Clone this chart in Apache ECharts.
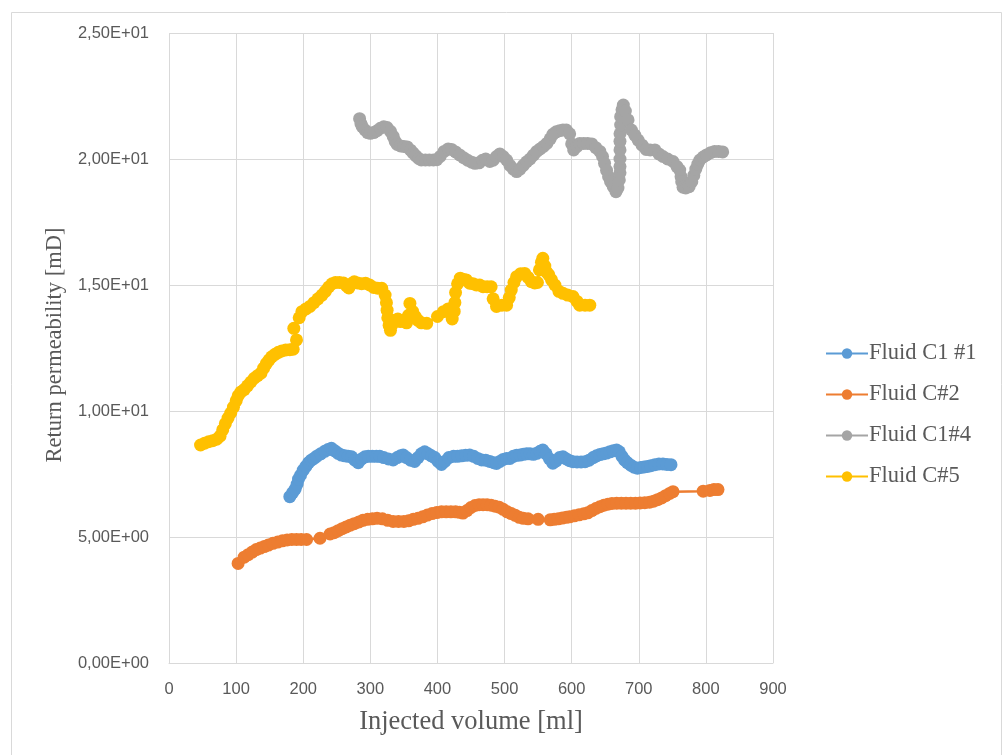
<!DOCTYPE html>
<html>
<head>
<meta charset="utf-8">
<script src="https://cdn.jsdelivr.net/npm/echarts@6/dist/echarts.min.js"></script>
<style>
html,body{margin:0;padding:0;background:#fff;}
#chart{width:1006px;height:755px;}
</style>
</head>
<body>
<div id="chart"></div>
<script>
// ---- data ----
const seriesNames = ['Fluid C1 #1', 'Fluid C#2', 'Fluid C1#4', 'Fluid C#5'];
const xTicks = [0, 100, 200, 300, 400, 500, 600, 700, 800, 900];
const yTicks = [0, 5, 10, 15, 20, 25];

const fluidC1_1 = [[180,6.6],[184,6.75],[188,6.9],[191,7.1],[193,7.3],[196,7.45],[200,7.65],[204,7.8],[208,7.95],[212,8.05],[216,8.12],[220,8.2],[226,8.3],[232,8.4],[237,8.47],[242,8.52],[247,8.42],[252,8.32],[257,8.25],[262,8.22],[267,8.2],[272,8.18],[277,8.05],[282,7.95],[287,8.1],[292,8.18],[297,8.2],[303,8.2],[309,8.2],[314,8.2],[320,8.15],[327,8.1],[334,8.06],[340,8.15],[345,8.22],[349,8.25],[354,8.15],[360,8.05],[366,8.0],[371,8.15],[376,8.3],[381,8.38],[386,8.3],[391,8.22],[396,8.15],[401,8.0],[406,7.88],[411,8.0],[417,8.15],[424,8.2],[430,8.2],[436,8.22],[442,8.24],[448,8.25],[454,8.2],[460,8.12],[466,8.06],[472,8.05],[478,8.0],[484,7.95],[488,7.92],[493,8.0],[498,8.08],[503,8.12],[508,8.12],[513,8.2],[518,8.24],[523,8.25],[528,8.28],[533,8.3],[538,8.3],[543,8.28],[548,8.32],[553,8.4],[557,8.45],[562,8.3],[567,8.1],[572,7.93],[577,8.02],[582,8.15],[587,8.18],[592,8.1],[597,8.03],[602,7.99],[608,7.98],[614,7.98],[620,7.99],[626,8.05],[632,8.15],[637,8.22],[642,8.27],[647,8.3],[652,8.33],[657,8.38],[662,8.42],[667,8.45],[671,8.38],[675,8.2],[679,8.05],[683,7.95],[688,7.85],[693,7.77],[698,7.73],[703,7.76],[708,7.78],[713,7.8],[718,7.83],[724,7.87],[730,7.9],[736,7.9],[742,7.88],[748,7.87]];

const fluidC_2 = [[103,3.95],[112,4.2],[118,4.3],[124,4.4],[130,4.5],[136,4.56],[142,4.62],[148,4.68],[155,4.75],[162,4.8],[169,4.85],[176,4.88],[183,4.9],[190,4.9],[197,4.9],[205,4.9],[225,4.95],[240,5.12],[246,5.17],[252,5.25],[258,5.33],[264,5.4],[270,5.47],[276,5.53],[283,5.6],[289,5.66],[296,5.7],[303,5.72],[310,5.74],[318,5.72],[326,5.66],[334,5.62],[342,5.62],[350,5.62],[357,5.64],[364,5.7],[371,5.74],[378,5.8],[385,5.87],[392,5.93],[399,5.97],[406,6.0],[413,6.0],[420,6.0],[427,6.0],[433,5.98],[438,5.95],[444,6.05],[450,6.17],[456,6.25],[462,6.28],[468,6.28],[474,6.28],[480,6.26],[486,6.22],[492,6.18],[498,6.1],[504,6.0],[510,5.93],[516,5.86],[522,5.78],[528,5.74],[535,5.72],[550,5.7],[568,5.68],[574,5.7],[580,5.72],[586,5.75],[592,5.78],[597,5.8],[604,5.84],[611,5.88],[618,5.92],[624,5.96],[630,6.05],[636,6.13],[642,6.2],[648,6.26],[654,6.3],[660,6.33],[667,6.34],[674,6.34],[681,6.34],[688,6.34],[695,6.34],[702,6.35],[709,6.36],[716,6.38],[722,6.42],[728,6.48],[734,6.55],[740,6.64],[746,6.73],[751,6.8],[796,6.82],[806,6.85],[812,6.88],[818,6.88]];

const fluidC1_4 = [[284,21.6],[286,21.4],[288,21.28],[292,21.15],[296,21.05],[300,21.02],[305,21.05],[310,21.12],[315,21.22],[320,21.28],[325,21.25],[330,21.1],[334,20.9],[337,20.7],[340,20.58],[345,20.52],[350,20.5],[355,20.48],[360,20.35],[364,20.23],[368,20.12],[372,20.02],[376,19.96],[382,19.96],[388,19.96],[394,19.96],[399,19.97],[404,20.1],[410,20.3],[416,20.4],[421,20.38],[427,20.28],[433,20.16],[439,20.05],[445,19.95],[451,19.87],[456,19.83],[462,19.85],[467,19.95],[472,20.0],[478,19.9],[483,19.95],[488,20.1],[493,20.2],[498,20.1],[503,19.96],[508,19.75],[513,19.6],[518,19.5],[523,19.6],[528,19.75],[533,19.89],[538,20.0],[543,20.15],[548,20.3],[553,20.4],[558,20.5],[563,20.62],[568,20.8],[572,20.98],[577,21.08],[582,21.12],[587,21.15],[592,21.15],[597,21.0],[600,20.6],[603,20.36],[608,20.5],[612,20.62],[618,20.62],[624,20.62],[630,20.6],[636,20.45],[642,20.3],[646,20.1],[649,19.83],[652,19.55],[655,19.3],[658,19.1],[662,18.9],[666,18.7],[669,18.85],[671,19.17],[672,19.45],[672,19.7],[672,20.0],[672,20.36],[672,20.7],[672,21.0],[673,21.35],[673,21.68],[675,21.95],[677,22.14],[680,21.9],[684,21.55],[689,21.15],[694,20.95],[699,20.75],[705,20.55],[711,20.38],[717,20.36],[724,20.36],[730,20.2],[736,20.1],[743,20.0],[751,19.9],[757,19.7],[761,19.56],[763,19.3],[764,19.1],[766,18.88],[770,18.85],[775,18.9],[779,19.1],[782,19.35],[785,19.6],[788,19.8],[791,19.96],[796,20.08],[801,20.16],[807,20.25],[813,20.3],[819,20.3],[825,20.28]];

const fluidC_5 = [[47,8.65],[53,8.72],[59,8.78],[65,8.82],[71,8.88],[76,9.0],[80,9.25],[84,9.5],[88,9.72],[92,9.92],[96,10.15],[100,10.4],[103,10.6],[107,10.75],[112,10.85],[117,11.0],[122,11.15],[127,11.3],[132,11.4],[137,11.5],[141,11.7],[145,11.88],[149,12.02],[153,12.15],[158,12.25],[163,12.33],[168,12.38],[174,12.42],[180,12.43],[185,12.45],[190,12.82],[186,13.28],[194,13.7],[198,13.94],[204,14.05],[210,14.15],[216,14.3],[222,14.45],[228,14.6],[233,14.75],[238,14.92],[243,15.05],[248,15.1],[254,15.1],[260,15.08],[265,14.95],[268,14.88],[272,15.05],[276,15.13],[281,15.08],[287,15.05],[293,15.07],[299,15.0],[305,14.9],[311,14.87],[317,14.87],[322,14.6],[324,14.3],[325,14.0],[326,13.7],[328,13.4],[330,13.2],[333,13.45],[337,13.6],[341,13.65],[345,13.55],[349,13.6],[354,13.5],[357,13.8],[359,14.27],[363,13.95],[367,13.75],[371,13.6],[376,13.5],[384,13.48],[400,13.75],[409,13.94],[416,14.05],[422,13.65],[425,13.95],[426,14.3],[427,14.7],[430,15.05],[434,15.27],[439,15.22],[443,15.2],[448,15.07],[453,15.05],[458,15.0],[463,15.0],[468,14.93],[474,14.93],[480,14.93],[483,14.45],[488,14.15],[496,14.2],[503,14.2],[507,14.5],[510,14.8],[514,15.1],[518,15.33],[524,15.45],[530,15.46],[535,15.3],[540,15.13],[545,15.08],[549,15.1],[552,15.6],[555,15.9],[557,16.06],[560,15.75],[563,15.5],[566,15.4],[570,15.2],[575,15.0],[581,14.75],[587,14.67],[594,14.6],[602,14.54],[608,14.35],[612,14.2],[620,14.2],[627,14.2]];

const seriesData = [fluidC1_1, fluidC_2, fluidC1_4, fluidC_5];
const seriesColors = ['#5B9BD5', '#ED7D31', '#A5A5A5', '#FFC000'];

// ---- chart ----
function sci(v) {
  if (v === 0) return '0,00E+00';
  const e = Math.floor(Math.log10(Math.abs(v)));
  const m = (v / Math.pow(10, e)).toFixed(2).replace('.', ',');
  const es = (e < 0 ? '-' : '+') + String(Math.abs(e)).padStart(2, '0');
  return m + 'E' + es;
}

const chart = echarts.init(document.getElementById('chart'), null, {renderer: 'canvas'});
const textColor = '#595959';
const gridColor = '#d9d9d9';

chart.setOption({
  backgroundColor: '#ffffff',
  animation: false,
  graphic: [{
    type: 'rect', left: 9, top: 10, silent: true,
    shape: {width: 990, height: 750},
    style: {fill: 'none', stroke: '#d9d9d9', lineWidth: 1}
  }],
  grid: {left: 169, right: 233, top: 33, bottom: 92, containLabel: false},
  xAxis: {
    type: 'value', min: xTicks[0], max: xTicks[xTicks.length - 1], interval: 100,
    name: 'Injected volume [ml]', nameLocation: 'middle', nameGap: 46,
    nameTextStyle: {fontFamily: 'Liberation Serif', fontSize: 26.5, color: textColor},
    axisLine: {show: true, lineStyle: {color: gridColor, width: 1}},
    axisTick: {show: false},
    axisLabel: {margin: 18, fontFamily: 'Liberation Sans', fontSize: 16.5, color: textColor},
    splitLine: {show: true, lineStyle: {color: gridColor, width: 1}}
  },
  yAxis: {
    type: 'value', min: yTicks[0], max: yTicks[yTicks.length - 1], interval: 5,
    name: 'Return permeability [mD]', nameLocation: 'middle', nameGap: 102, nameRotate: 90,
    nameTextStyle: {fontFamily: 'Liberation Serif', fontSize: 22.5, color: textColor, padding: [0, 0, 0, 6]},
    axisLine: {show: false},
    axisTick: {show: false},
    axisLabel: {margin: 20, fontFamily: 'Liberation Sans', fontSize: 16.5, color: textColor, formatter: sci},
    splitLine: {show: true, lineStyle: {color: gridColor, width: 1}}
  },
  legend: {
    orient: 'vertical', left: 820, top: 337,
    itemWidth: 42, itemHeight: 13, itemGap: 18,
    textStyle: {fontFamily: 'Liberation Serif', fontSize: 22.5, color: textColor, padding: [0, 0, 0, -4]},
    data: seriesNames
  },
  series: seriesNames.map((n, i) => ({
    name: n, type: 'line', data: seriesData[i],
    symbol: 'circle', symbolSize: 13, showSymbol: true,
    itemStyle: {color: seriesColors[i]},
    lineStyle: {color: seriesColors[i], width: 2.5},
    z: 2 + i
  }))
});
</script>
</body>
</html>
